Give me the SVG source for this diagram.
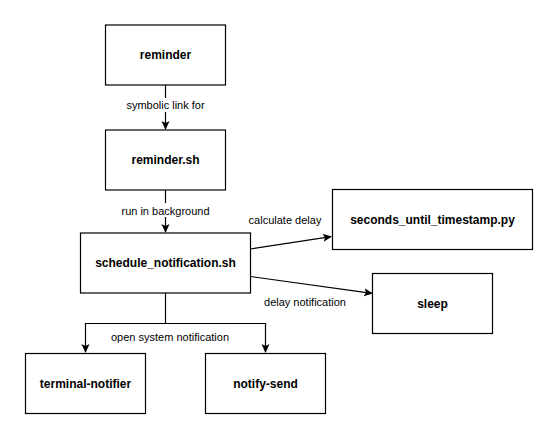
<svg xmlns="http://www.w3.org/2000/svg" width="558" height="439" viewBox="0 0 558 439">
<style>
.box{fill:#fff;stroke:#000;stroke-width:1.2}
.nt{font-family:"Liberation Sans",Arial,sans-serif;font-size:12px;font-weight:bold;fill:#000;text-anchor:middle;dominant-baseline:central}
.lb{font-family:"Liberation Sans",Arial,sans-serif;font-size:11px;fill:#000;text-anchor:middle;dominant-baseline:central}
.ed{fill:none;stroke:#000;stroke-width:1.2}
</style>
<defs>
<marker id="ah" markerWidth="10" markerHeight="10" refX="8" refY="4" orient="auto" markerUnits="userSpaceOnUse">
<path d="M0,0 L9,4 L0,8 L2,4 z" fill="#000"/>
</marker>
</defs>
<rect width="558" height="439" fill="#fff"/>
<g id="connectors">
<path class="ed" d="M165.5,85 V129" marker-end="url(#ah)"/>
<rect x="122" y="98" width="87" height="14" fill="#fff"/>
<text class="lb" x="165.5" y="105">symbolic link for</text>
<path class="ed" d="M165.5,190 V232" marker-end="url(#ah)"/>
<rect x="120" y="203" width="91" height="14" fill="#fff"/>
<text class="lb" x="165.5" y="210.5">run in background</text>
<path class="ed" d="M250.5,249 L331,236.7" marker-end="url(#ah)"/>
<text class="lb" x="285" y="220">calculate delay</text>
<path class="ed" d="M250.5,276.5 L372,293.3" marker-end="url(#ah)"/>
<text class="lb" x="305" y="301.5">delay notification</text>
<path class="ed" d="M165.5,293 V323.5 H85.5 V352" marker-end="url(#ah)"/>
<path class="ed" d="M165.5,323.5 H265.5 V352" marker-end="url(#ah)"/>
<text class="lb" x="170" y="336.5">open system notification</text>
</g>
<g id="reminder"><rect class="box" x="105.5" y="25" width="120" height="60"/><text class="nt" x="165.5" y="55">reminder</text></g>
<g id="reminder_sh"><rect class="box" x="105.5" y="130" width="120" height="60"/><text class="nt" x="165.5" y="160">reminder.sh</text></g>
<g id="schedule_notification"><rect class="box" x="80.5" y="233" width="170" height="60"/><text class="nt" x="165.5" y="263">schedule_notification.sh</text></g>
<g id="seconds_until_timestamp"><rect class="box" x="332.5" y="189.5" width="200" height="60"/><text class="nt" x="432.5" y="219.5">seconds_until_timestamp.py</text></g>
<g id="sleep"><rect class="box" x="372.5" y="273.5" width="120" height="60"/><text class="nt" x="432.5" y="303.5">sleep</text></g>
<g id="terminal_notifier"><rect class="box" x="25.5" y="353.5" width="120" height="60"/><text class="nt" x="85.5" y="383.5">terminal-notifier</text></g>
<g id="notify_send"><rect class="box" x="205.5" y="353.5" width="120" height="60"/><text class="nt" x="265.5" y="383.5">notify-send</text></g>
</svg>
